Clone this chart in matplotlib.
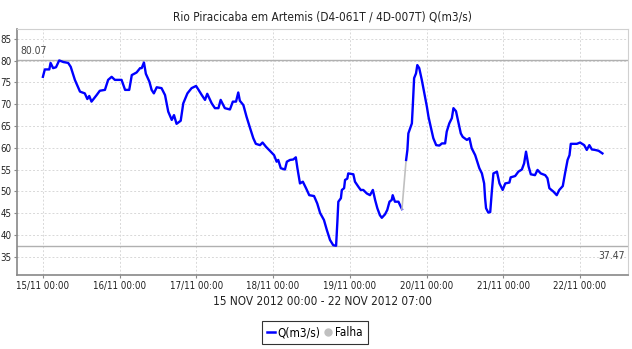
import pandas as pd
import matplotlib
matplotlib.use('Agg')
import matplotlib.pyplot as plt
import matplotlib.dates as mdates
from matplotlib.lines import Line2D

plt.rcParams['font.family'] = ['DejaVu Sans']
plt.rcParams['font.stretch'] = 'condensed'

start = pd.Timestamp('2012-11-15 00:00')

# hours since 15/11 00:00 and flow (m3/s), before the gap
hours_a = [0, 0.6, 2.0, 2.4, 3.2, 4.1, 5.1, 6.4, 7.9, 8.7, 10.0, 11.6, 13.1, 13.9, 14.5,
           15.2, 16.8, 17.8, 19.4, 20.4, 21.5, 22.5, 24.6, 25.7, 27.0, 27.8, 29.3, 30.4,
           30.9, 31.6, 32.2, 33.3, 34.0, 34.7, 35.6, 37.1, 38.2, 38.7, 39.2, 40.3, 41.0,
           41.8, 43.1, 43.9, 45.2, 46.5, 47.9, 48.6, 49.7, 50.7, 51.4, 52.8, 53.8, 54.9,
           55.6, 56.9, 58.5, 59.4, 60.4, 61.1, 61.6, 62.7, 63.7, 64.8, 65.8, 66.6, 67.9,
           68.7, 69.8, 71.0, 72.3, 73.1, 73.6, 74.4, 75.7, 76.3, 77.3, 78.3, 79.1, 79.6,
           80.4, 81.3, 82.3, 83.3, 84.8, 85.8, 86.7, 87.9, 88.8, 89.8, 90.8, 91.7, 92.1,
           92.4, 93.2, 93.5, 94.2, 94.5, 95.2, 95.5, 97.1, 97.6, 98.7, 99.4, 100.2, 101.3,
           102.3, 103.2, 103.9, 104.6, 105.4, 106.0, 107.0, 107.7, 108.4, 109.1, 109.4,
           110.1, 111.2, 111.7, 112.3]
flow_a = [76.3, 78.0, 78.0, 79.5, 78.3, 78.5, 80.07, 79.7, 79.5, 78.6, 75.6, 72.9, 72.5, 71.2,
          71.9, 70.6, 72.1, 73.1, 73.3, 75.6, 76.3, 75.6, 75.6, 73.3, 73.3, 76.7, 77.3, 78.3,
          78.3, 79.6, 77.0, 75.2, 73.3, 72.5, 73.9, 73.7, 72.1, 70.2, 68.3, 66.4, 67.5, 65.5,
          66.2, 70.2, 72.5, 73.7, 74.2, 73.4, 72.1, 71.0, 72.4, 70.2, 69.1, 69.1, 71.0, 69.1,
          68.8, 70.6, 70.6, 72.7, 70.8, 69.8, 67.1, 64.5, 62.2, 60.9, 60.6, 61.2, 60.2, 59.3,
          58.3, 56.8, 57.2, 55.3, 55.0, 56.8, 57.2, 57.3, 57.8, 55.3, 51.8, 52.2, 50.7, 49.1,
          48.9, 47.2, 45.0, 43.4, 41.1, 38.8, 37.6, 37.47, 43.0, 47.6, 48.4, 50.3, 50.7, 52.6,
          52.9, 54.1, 53.9, 52.2, 51.0, 50.3, 50.3, 49.5, 49.1, 50.3, 48.0, 46.1, 44.5, 43.9,
          44.7, 45.7, 47.6, 48.0, 49.1, 47.6, 47.6, 46.8, 45.9]

# after the gap
hours_b = [113.6, 114.0, 114.3, 115.4, 115.7, 116.1, 116.7, 117.1, 117.7, 118.5, 119.2, 120.1,
           120.6, 121.3, 122.1, 123.0, 124.0, 124.8, 125.8, 126.3, 127.1, 127.9, 128.4, 129.2,
           129.9, 130.7, 131.3, 132.6, 133.4, 134.1, 135.2, 136.5, 137.3, 138.0, 138.3, 138.6,
           139.3, 139.9, 140.4, 140.9, 142.0, 142.8, 143.8, 144.6, 145.9, 146.3, 147.7, 148.7,
           149.8, 150.5, 151.1, 151.9, 152.6, 153.9, 154.7, 155.7, 157.1, 157.8, 158.4, 159.7,
           160.7, 161.5, 162.6, 163.3, 164.1, 164.7, 165.1, 167.0, 168.0, 169.3, 170.1, 170.9,
           171.7, 172.7, 173.8, 175.0]
flow_b = [57.2, 59.5, 63.3, 65.6, 69.8, 76.0, 77.1, 79.0, 78.3, 75.6, 72.9, 69.4, 67.1, 64.8,
          62.2, 60.6, 60.5, 61.0, 61.0, 63.7, 65.6, 66.8, 69.1, 68.4, 66.0, 63.3, 62.5, 61.8,
          62.2, 59.9, 58.3, 55.3, 54.1, 51.8, 48.4, 46.1, 45.1, 45.2, 49.9, 54.1, 54.5, 51.8,
          50.3, 51.8, 52.0, 53.2, 53.5, 54.5, 55.0, 56.4, 59.1, 55.7, 53.9, 53.7, 54.9, 54.1,
          53.7, 53.0, 50.7, 49.9, 49.1, 50.3, 51.2, 54.1, 57.2, 58.3, 60.9, 60.9, 61.2, 60.6,
          59.5, 60.6, 59.6, 59.5, 59.3, 58.7]

tick_days = pd.date_range('2012-11-15', '2012-11-22', freq='D')
y_ticks = [35, 40, 45, 50, 55, 60, 65, 70, 75, 80, 85]

t_a = start + pd.to_timedelta(hours_a, unit='h')
t_b = start + pd.to_timedelta(hours_b, unit='h')

q_max = max(max(flow_a), max(flow_b))
q_min = min(min(flow_a), min(flow_b))

fig = plt.figure(figsize=(6.32, 3.49), dpi=100)
ax = fig.add_axes([0.0269, 0.212, 0.9668, 0.705])

ax.grid(True, color='#d8d8d8', linestyle=(0, (2, 2)), linewidth=0.7)
ax.set_axisbelow(True)

# min / max reference lines
ax.axhline(q_max, color='#b0b0b0', linewidth=1)
ax.axhline(q_min, color='#b0b0b0', linewidth=1)

ax.plot(t_a, flow_a, color='#0000ff', linewidth=1.7)
ax.plot([t_a[-1], t_b[0]], [flow_a[-1], flow_b[0]], color='#c0c0c0', linewidth=1.2)
ax.plot(t_b, flow_b, color='#0000ff', linewidth=1.7)

x_left = start - pd.Timedelta(hours=8.1)
x_right = start + pd.Timedelta(hours=183)
ax.set_xlim(x_left, x_right)
ax.set_ylim(30.75, 87.3)

ax.text(x_left + pd.Timedelta(hours=1), q_max + 1.0, f'{q_max:.2f}', fontsize=7.5,
        color='#444444', va='bottom', ha='left')
ax.text(x_right - pd.Timedelta(hours=1), q_min - 1.2, f'{q_min:.2f}', fontsize=7.5,
        color='#444444', va='top', ha='right')

ax.set_xticks(tick_days)
ax.xaxis.set_major_formatter(mdates.DateFormatter('%d/%m %H:%M'))
ax.set_yticks(y_ticks)
ax.tick_params(axis='both', labelsize=7, colors='#888888', labelcolor='#222222',
               length=2.5, width=0.8, pad=1.5)

for side in ['left', 'bottom']:
    ax.spines[side].set_color('#888888')
    ax.spines[side].set_linewidth(1.2)
for side in ['top', 'right']:
    ax.spines[side].set_color('#d0d0d0')
    ax.spines[side].set_linewidth(0.8)

fig.text(0.51, 0.951, 'Rio Piracicaba em Artemis (D4-061T / 4D-007T) Q(m3/s)',
         ha='center', va='center', fontsize=8.5, color='#222222')
fig.text(0.51, 0.137, '15 NOV 2012 00:00 - 22 NOV 2012 07:00',
         ha='center', va='center', fontsize=8.5, color='#222222')

handles = [Line2D([], [], color='#0000ff', linewidth=1.8),
           Line2D([], [], color='#c0c0c0', marker='o', linestyle='None', markersize=5)]
leg = fig.legend(handles, ['Q(m3/s)', 'Falha'], loc='center', bbox_to_anchor=(0.498, 0.047),
                 ncol=2, fontsize=8.5, frameon=True, fancybox=False, handlelength=0.7,
                 handletextpad=0.2, columnspacing=0.3, borderpad=0.45, borderaxespad=0)
leg.get_frame().set_edgecolor('black')
leg.get_frame().set_linewidth(0.8)

fig.savefig('out.png', dpi=100)
